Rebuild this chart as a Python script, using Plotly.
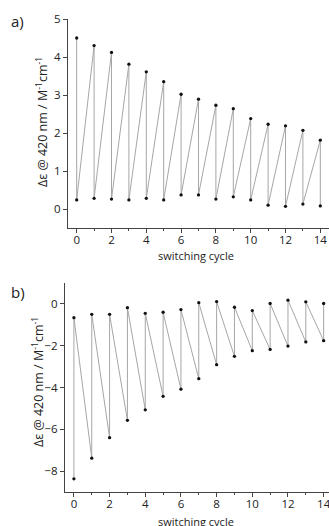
import plotly.graph_objects as go

cycles = list(range(15))
a_high = [4.50, 4.30, 4.12, 3.81, 3.61, 3.35, 3.02, 2.89, 2.73, 2.64, 2.38, 2.23, 2.19, 2.07, 1.81]
a_low = [0.24, 0.28, 0.26, 0.24, 0.28, 0.24, 0.37, 0.37, 0.26, 0.32, 0.24, 0.10, 0.07, 0.13, 0.08]
b_top = [-0.66, -0.50, -0.50, -0.18, -0.45, -0.40, -0.27, 0.06, 0.11, -0.16, -0.32, 0.02, 0.18, 0.10, 0.02]
b_bottom = [-8.37, -7.38, -6.40, -5.57, -5.07, -4.42, -4.08, -3.58, -2.91, -2.51, -2.24, -2.18, -2.02, -1.82, -1.76]
x_ticks = [0, 2, 4, 6, 8, 10, 12, 14]
x_minor = [1, 3, 5, 7, 9, 11, 13]
a_yticks = [0, 1, 2, 3, 4, 5]
b_yticks = [-8, -6, -4, -2, 0]

# interleave: a goes high -> low at each cycle, b goes bottom -> top
ax, ay, bx, by = [], [], [], []
for c, h, l in zip(cycles, a_high, a_low):
    ax += [c, c]
    ay += [h, l]
for c, lo, t in zip(cycles, b_bottom, b_top):
    bx += [c, c]
    by += [lo, t]

W, H = 329, 526
FONT = "Open Sans"
TXT = "#222222"
LINE = "#a6a6a6"
AX = "#444444"

fig = go.Figure()
fig.add_trace(go.Scatter(x=ax, y=ay, mode="lines+markers", xaxis="x", yaxis="y",
                         line=dict(color=LINE, width=1),
                         marker=dict(color="#111111", size=3.3), showlegend=False))
fig.add_trace(go.Scatter(x=bx, y=by, mode="lines+markers", xaxis="x2", yaxis="y2",
                         line=dict(color=LINE, width=1),
                         marker=dict(color="#111111", size=3.3), showlegend=False))

axis_common = dict(showgrid=False, zeroline=False, showline=True, linecolor=AX,
                   linewidth=1, ticks="outside", ticklen=4, tickcolor=AX, automargin=False,
                   ticklabeloverflow="allow",
                   tickfont=dict(family=FONT, size=11.5, color=TXT))
minor = dict(tickvals=x_minor, ticklen=2, ticks="outside", tickcolor=AX)

fig.update_layout(
    width=W, height=H, margin=dict(l=0, r=0, t=0, b=0),
    paper_bgcolor="white", plot_bgcolor="white",
    xaxis=dict(domain=[68 / W, 1], range=[-0.5, 14.5], anchor="y",
               tickvals=x_ticks, minor=minor, ticklabelstandoff=-3, **axis_common),
    yaxis=dict(domain=[1 - 228 / H, 1 - 19 / H], range=[-0.5, 5], anchor="x",
               tickvals=a_yticks, **axis_common),
    xaxis2=dict(domain=[65 / W, 1], range=[-0.5, 14.3], anchor="y2",
                tickvals=x_ticks, minor=minor, ticklabelstandoff=-3, **axis_common),
    yaxis2=dict(domain=[1 - 492 / H, 1 - 283 / H], range=[-9, 1], anchor="x2",
                tickvals=b_yticks, **axis_common),
)

ytitle = "Δε @ 420 nm / M<sup>-1</sup>cm<sup>-1</sup>"
ann = [
    dict(text="a)", x=9 / W, y=1 - 21 / H, xanchor="left", yanchor="middle",
         font=dict(family=FONT, size=15, color=TXT)),
    dict(text="b)", x=9 / W, y=1 - 292 / H, xanchor="left", yanchor="middle",
         font=dict(family=FONT, size=15, color=TXT)),
    dict(text=ytitle, x=42 / W, y=1 - 122 / H, textangle=-90, xanchor="center", yanchor="middle",
         font=dict(family=FONT, size=12.5, color=TXT)),
    dict(text=ytitle, x=38 / W, y=1 - 382 / H, textangle=-90, xanchor="center", yanchor="middle",
         font=dict(family=FONT, size=12.5, color=TXT)),
    dict(text="switching cycle", x=196 / W, y=1 - 256 / H, xanchor="center", yanchor="middle",
         font=dict(family=FONT, size=11, color=TXT)),
    dict(text="switching cycle", x=196 / W, y=1 - 521 / H, xanchor="center", yanchor="middle",
         font=dict(family=FONT, size=11, color=TXT)),
]
for a in ann:
    a.update(xref="paper", yref="paper", showarrow=False)
fig.update_layout(annotations=ann)

fig.write_html("out.html")
